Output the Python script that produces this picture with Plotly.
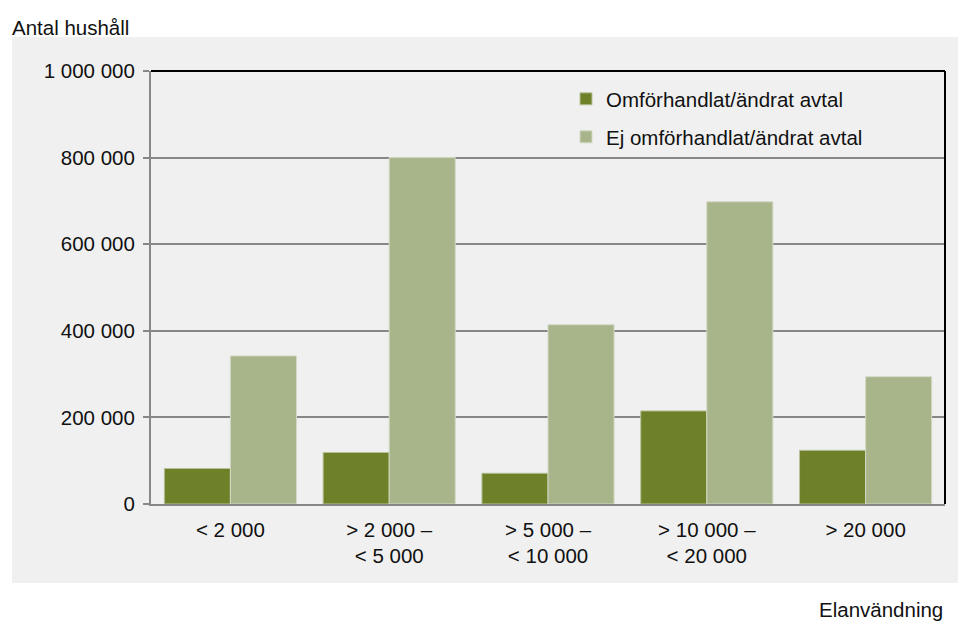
import plotly.graph_objects as go

categories = ["< 2 000", "> 2 000 –<br>< 5 000", "> 5 000 –<br>< 10 000", "> 10 000 –<br>< 20 000", "> 20 000"]
renegotiated = [82000, 119000, 71000, 215000, 124000]
not_renegotiated = [342000, 800000, 414000, 698000, 294000]
ytick_vals = [0, 200000, 400000, 600000, 800000, 1000000]
ytick_text = ["0", "200 000", "400 000", "600 000", "800 000", "1 000 000"]

# the page body has an 8px default margin; work in window pixels and subtract it
OFF = 8
WIN_W, WIN_H = 966, 624
W, H = WIN_W - OFF, WIN_H - OFF
PL, PR, PT, PB = 151, 945, 71, 504          # plot area in window pixels
L, R, T, B = PL - OFF, W - (PR - OFF), PT - OFF, H - (PB - OFF)
pw, ph = W - L - R, H - T - B

def px_x(x):
    return (x - OFF - L) / pw

def px_y(y):
    return (H - B - (y - OFF)) / ph

FONT = "Liberation Sans, Arial, sans-serif"
FS = 20.5

fig = go.Figure()
fig.add_trace(go.Bar(x=categories, y=renegotiated, name="Omförhandlat/ändrat avtal",
                     marker=dict(color="#6f8128", line=dict(color="#b5c29a", width=1)), legend="legend"))
fig.add_trace(go.Bar(x=categories, y=not_renegotiated, name="Ej omförhandlat/ändrat avtal",
                     marker=dict(color="#a8b48a", line=dict(color="#d2d9c4", width=1)), legend="legend2"))

fig.update_layout(
    width=W, height=H,
    margin=dict(l=L, r=R, t=T, b=B),
    paper_bgcolor="white",
    plot_bgcolor="#f0f0f0",
    barmode="group",
    bargap=0.168,
    bargroupgap=0,
    font=dict(family=FONT, size=FS, color="#111111"),
    showlegend=True,
    legend=dict(x=px_x(566), y=px_y(79), xanchor="left", yanchor="top",
                bgcolor="rgba(0,0,0,0)", font=dict(size=FS), itemwidth=30),
    legend2=dict(x=px_x(566), y=px_y(117), xanchor="left", yanchor="top",
                 bgcolor="rgba(0,0,0,0)", font=dict(size=FS), itemwidth=30),
    xaxis=dict(showline=True, linecolor="#878787", linewidth=2, ticks="",
               tickfont=dict(size=FS), showgrid=False, ticklabelstandoff=6),
    yaxis=dict(range=[0, 1000000], tickvals=ytick_vals, ticktext=ytick_text,
               showline=True, linecolor="#878787", linewidth=2,
               ticks="outside", ticklen=6, tickcolor="#878787", tickwidth=2,
               showgrid=True, gridcolor="#878787", gridwidth=2,
               tickfont=dict(size=FS), zeroline=False, ticklabelstandoff=4),
)

# gray panel behind the chart
fig.add_shape(type="rect", xref="paper", yref="paper",
              x0=px_x(12), x1=px_x(980), y0=px_y(583), y1=px_y(37),
              fillcolor="#f0f0f0", line=dict(width=0), layer="below")
# top and right borders of plot area
fig.add_shape(type="line", xref="paper", yref="paper", x0=0, x1=1, y0=1, y1=1,
              line=dict(color="black", width=2))
fig.add_shape(type="line", xref="paper", yref="paper", x0=1, x1=1, y0=0, y1=1,
              line=dict(color="black", width=2))

fig.add_annotation(text="Antal hushåll", xref="paper", yref="paper",
                   x=px_x(10), y=px_y(27), xanchor="left", yanchor="middle",
                   showarrow=False, font=dict(size=FS))
fig.add_annotation(text="Elanvändning", xref="paper", yref="paper",
                   x=px_x(945), y=px_y(609), xanchor="right", yanchor="middle",
                   showarrow=False, font=dict(size=FS))

fig.write_html("out.html")
